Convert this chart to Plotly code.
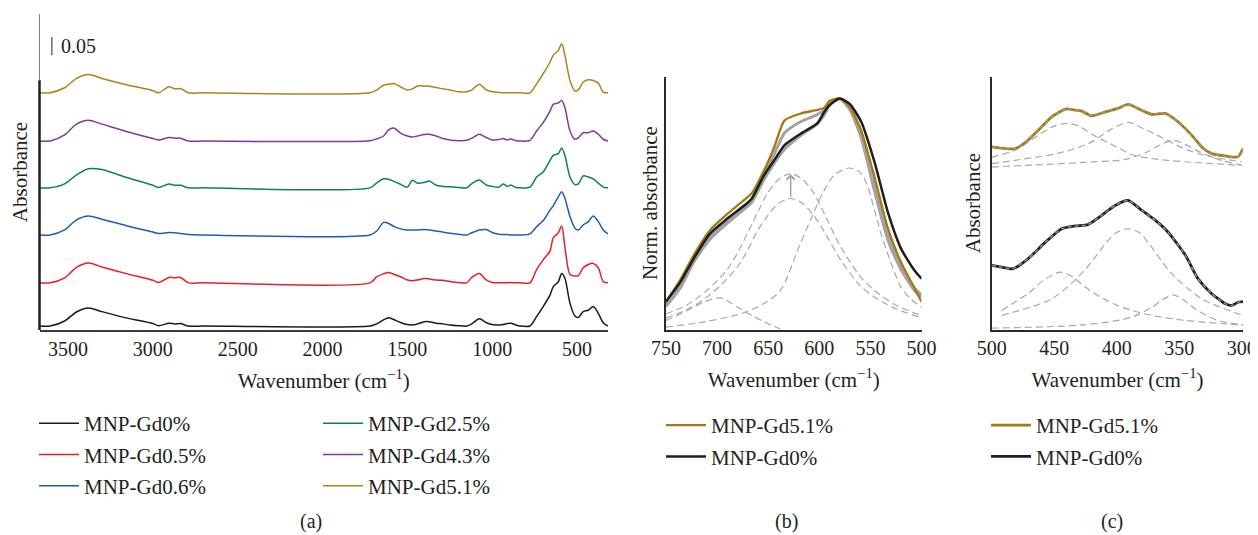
import plotly.graph_objects as go

# ---------------- Panel (a): FTIR spectra (absorbance, stacked) ----------------
wn_a = [3668, 3605, 3520, 3450, 3380, 3300, 3150, 3000, 2965, 2905, 2870, 2837, 2790, 2700,
        1720, 1680, 1640, 1610, 1580, 1540, 1500, 1470, 1440, 1400, 1370, 1330, 1290, 1250,
        1200, 1150, 1120, 1075, 1035, 1000, 960, 935, 910, 890, 860,
        836, 777, 738, 699, 659, 640, 610, 590, 571, 541, 512, 492, 463, 433, 404, 374, 345, 317]

abs_gd0 = [0, 0, 0.014, 0.039, 0.050, 0.040, 0.022, 0.007, 0.001, 0.008, 0.006, 0.007, 0, 0,
           0, 0.006, 0.017, 0.023, 0.018, 0.010, 0.004, 0.003, 0.006, 0.012, 0.012, 0.008, 0.006, 0.003,
           0.001, 0, 0.006, 0.020, 0.010, 0.004, 0.003, 0.004, 0.007, 0.008, 0.003,
           0, 0, 0.026, 0.054, 0.086, 0.109, 0.123, 0.146, 0.133, 0.063, 0.028, 0.024, 0.040, 0.044, 0.054, 0.035, 0.009, 0]
abs_gd05 = [0, 0, 0.014, 0.043, 0.055, 0.044, 0.025, 0.007, 0.001, 0.015, 0.014, 0.015, 0, 0,
            0, 0.017, 0.025, 0.029, 0.024, 0.017, 0.008, 0.006, 0.008, 0.012, 0.011, 0.008, 0.007, 0.004,
            0.001, 0, 0.015, 0.026, 0.008, 0.001, 0, 0, 0, 0.001, 0,
            0, 0, 0.037, 0.064, 0.088, 0.125, 0.139, 0.158, 0.100, 0.023, 0.019, 0.020, 0.042, 0.051, 0.054, 0.042, 0.003, 0]
abs_gd06 = [0, 0, 0.014, 0.042, 0.053, 0.044, 0.025, 0.008, 0.004, 0.007, 0.006, 0.004, 0.001, 0,
            0, 0.011, 0.035, 0.032, 0.024, 0.017, 0.014, 0.014, 0.014, 0.015, 0.014, 0.011, 0.008, 0.005,
            0.002, 0, 0.006, 0.014, 0.015, 0.007, 0.002, 0.001, 0.001, 0, 0,
            0, 0.003, 0.023, 0.040, 0.069, 0.081, 0.106, 0.120, 0.102, 0.051, 0.019, 0.014, 0.028, 0.037, 0.053, 0.037, 0.014, 0.003]
abs_gd25 = [0, 0, 0.011, 0.036, 0.053, 0.051, 0.028, 0.007, 0.001, 0.011, 0.007, 0.007, 0, 0,
            0, 0.014, 0.025, 0.024, 0.018, 0.010, 0.002, 0.021, 0.013, 0.015, 0.019, 0.007, 0.004, 0.003,
            0.001, 0, 0.012, 0.022, 0.008, 0.004, 0.002, 0.011, 0.004, 0.008, 0.001,
            0, 0.002, 0.030, 0.044, 0.076, 0.090, 0.095, 0.111, 0.090, 0.030, 0.009, 0.011, 0.033, 0.030, 0.025, 0.013, 0.002, 0]
abs_gd43 = [0, 0, 0.017, 0.047, 0.058, 0.047, 0.026, 0.007, 0.003, 0.010, 0.008, 0.008, 0, 0,
            0.001, 0.006, 0.014, 0.031, 0.036, 0.022, 0.014, 0.011, 0.014, 0.018, 0.019, 0.014, 0.007, 0.003,
            0.001, 0.002, 0.008, 0.019, 0.010, 0.003, 0.004, 0.007, 0.003, 0.006, 0.001,
            0, 0.002, 0.028, 0.051, 0.083, 0.102, 0.106, 0.113, 0.093, 0.028, 0.005, 0.009, 0.023, 0.023, 0.028, 0.019, 0.005, 0]
abs_gd51 = [0, 0, 0.014, 0.040, 0.051, 0.040, 0.022, 0.006, 0, 0.017, 0.011, 0.012, 0, 0,
            0, 0.008, 0.021, 0.024, 0.026, 0.017, 0.008, 0.011, 0.019, 0.019, 0.018, 0.015, 0.011, 0.008,
            0.003, 0.003, 0.008, 0.024, 0.008, 0.003, 0.001, 0, 0, 0, 0,
            0, 0, 0.025, 0.053, 0.085, 0.104, 0.118, 0.136, 0.104, 0.034, 0.005, 0.008, 0.030, 0.036, 0.034, 0.027, 0.002, 0]

names_a = ["MNP-Gd0%", "MNP-Gd0.5%", "MNP-Gd0.6%", "MNP-Gd2.5%", "MNP-Gd4.3%", "MNP-Gd5.1%"]
series_a = [abs_gd0, abs_gd05, abs_gd06, abs_gd25, abs_gd43, abs_gd51]
offsets_a = [0, 0.120, 0.253, 0.384, 0.514, 0.648]
colors_a = ["#1a1a1a", "#ee1c25", "#1d5fae", "#0f7f56", "#7e3a97", "#a8851a"]
ticks_a = [3500, 3000, 2500, 2000, 1500, 1000, 500]

# ---------------- Panel (b): normalised absorbance 750-500 cm-1 ----------------
wn_b = [750, 736, 723, 707, 690, 671, 666, 654, 644, 634, 618, 602, 595, 590, 580, 570, 559, 546, 533, 520, 507, 500]
norm_gd0_b = [0.121, 0.205, 0.306, 0.415, 0.480, 0.545, 0.567, 0.668, 0.733, 0.798, 0.848, 0.892, 0.942, 0.971, 1.0,
              0.975, 0.899, 0.725, 0.509, 0.350, 0.256, 0.220]
norm_gd51_b = [0.120, 0.215, 0.321, 0.430, 0.500, 0.570, 0.590, 0.689, 0.790, 0.905, 0.935, 0.950, 0.960, 0.990, 1.0,
               0.963, 0.860, 0.660, 0.440, 0.290, 0.180, 0.120]
norm_grey1_b = [0.110, 0.190, 0.300, 0.400, 0.470, 0.540, 0.565, 0.665, 0.760, 0.850, 0.900, 0.930, 0.950, 0.980, 1.0,
                0.960, 0.840, 0.620, 0.410, 0.270, 0.180, 0.150]
norm_grey2_b = [0.100, 0.180, 0.290, 0.390, 0.460, 0.530, 0.550, 0.650, 0.720, 0.780, 0.840, 0.890, 0.930, 0.970, 1.0,
                0.950, 0.830, 0.600, 0.390, 0.260, 0.170, 0.140]
wn_b_c1 = [750, 730, 710, 690, 677, 660, 651, 640, 628, 616, 605, 596, 579, 560, 546, 525, 500]
comp1_up_b = [0.068, 0.105, 0.169, 0.260, 0.357, 0.510, 0.588, 0.648, 0.675, 0.648, 0.588, 0.510, 0.357, 0.230, 0.169, 0.105, 0.061]
comp1_lo_b = [0.050, 0.085, 0.140, 0.220, 0.290, 0.430, 0.490, 0.545, 0.567, 0.545, 0.490, 0.430, 0.300, 0.190, 0.140, 0.090, 0.050]
wn_b_c2 = [750, 710, 677, 655, 638, 620, 608, 597, 585, 571, 560, 553, 545, 540, 530, 520, 510, 500]
comp2_b = [0.010, 0.035, 0.068, 0.110, 0.169, 0.357, 0.480, 0.588, 0.670, 0.699, 0.680, 0.623, 0.500, 0.420, 0.290, 0.183, 0.130, 0.096]
wn_b_c3 = [750, 730, 715, 697, 680, 665, 650, 638]
comp3_b = [0.039, 0.080, 0.115, 0.137, 0.097, 0.058, 0.025, 0.002]
ticks_b = [750, 700, 650, 600, 550, 500]

# ---------------- Panel (c): absorbance 500-300 cm-1 with fitted bands ----------------
wn_c_gd51 = [500, 489, 481, 471, 460, 452, 441, 434, 428, 420, 409, 399, 391, 380, 372, 361, 351, 340, 332, 324, 313, 303, 299]
abs_c_gd51 = [0.790, 0.783, 0.783, 0.819, 0.877, 0.920, 0.954, 0.950, 0.945, 0.925, 0.942, 0.957, 0.974, 0.949, 0.931,
              0.935, 0.899, 0.841, 0.790, 0.761, 0.751, 0.747, 0.783]
wn_c_gd0 = [500, 492, 483, 471, 457, 444, 433, 423, 412, 401, 391, 380, 369, 359, 345, 335, 324, 313, 308, 303, 299]
abs_c_gd0 = [0.277, 0.270, 0.263, 0.306, 0.378, 0.436, 0.448, 0.454, 0.494, 0.538, 0.559, 0.516, 0.472, 0.422, 0.321,
             0.220, 0.155, 0.111, 0.104, 0.118, 0.121]
wn_c_g1 = [500, 480, 460, 450, 440, 430, 420, 400, 387, 365, 330, 300]
band1_c_gd51 = [0.745, 0.780, 0.850, 0.880, 0.892, 0.880, 0.845, 0.790, 0.755, 0.735, 0.720, 0.710]
wn_c_g2 = [500, 452, 435, 420, 405, 391, 377, 362, 347, 332, 300]
band2_c_gd51 = [0.718, 0.757, 0.780, 0.812, 0.865, 0.896, 0.865, 0.826, 0.785, 0.757, 0.725]
wn_c_g3 = [500, 420, 394, 375, 365, 355, 345, 332, 315, 300]
band3_c_gd51 = [0.703, 0.725, 0.735, 0.770, 0.800, 0.819, 0.800, 0.764, 0.730, 0.711]
wn_c_b1 = [492, 481, 471, 458, 445, 436, 427, 413, 399, 385, 372, 345, 320, 299]
band1_c_gd0 = [0.082, 0.120, 0.155, 0.215, 0.248, 0.230, 0.191, 0.140, 0.104, 0.078, 0.061, 0.039, 0.027, 0.020]
wn_c_b2 = [492, 452, 427, 408, 400, 391, 382, 375, 357, 332, 299]
band2_c_gd0 = [0.061, 0.133, 0.248, 0.378, 0.420, 0.436, 0.420, 0.378, 0.248, 0.133, 0.061]
wn_c_b3 = [500, 427, 388, 372, 363, 355, 347, 335, 319, 299]
band3_c_gd0 = [0.006, 0.020, 0.053, 0.096, 0.130, 0.150, 0.130, 0.081, 0.039, 0.020]
ticks_c = [500, 450, 400, 350, 300]

FONT = "Liberation Serif"
TXT = "#231f20"
GREY = "#a3a3a3"
DASH = "#a8a8a8"
GOLD_B = "#a47b12"
BLACK_B = "#1e1e1e"
W, H = 1258, 535
PAGE_OFF = 8  # default page body margin in front of the figure


def fx(p):
    return (p - PAGE_OFF) / W


def fy(p):
    return 1 - (p - PAGE_OFF) / H


fig = go.Figure()

# panel (a)
for i, (nm, vals, off, col) in enumerate(zip(names_a, series_a, offsets_a, colors_a)):
    fig.add_trace(go.Scatter(
        x=wn_a, y=[off + v for v in vals], mode="lines", name=nm,
        line=dict(color=col, width=1.5, shape="spline", smoothing=0.8),
        xaxis="x", yaxis="y", legend="legend" if i < 3 else "legend2",
        legendgroup=nm + "_a", hoverinfo="skip"))

# panel (b)
dash_style = dict(color=DASH, width=1.2, dash="7px,4px", shape="spline", smoothing=0.8)
for xs, ys in [(wn_b_c1, comp1_up_b), (wn_b_c1, comp1_lo_b), (wn_b_c2, comp2_b), (wn_b_c3, comp3_b)]:
    fig.add_trace(go.Scatter(x=xs, y=ys, mode="lines", line=dash_style, showlegend=False,
                             xaxis="x2", yaxis="y2", hoverinfo="skip"))
for ys in [norm_grey2_b, norm_grey1_b]:
    fig.add_trace(go.Scatter(x=wn_b, y=ys, mode="lines",
                             line=dict(color=GREY, width=3, shape="spline", smoothing=0.6),
                             showlegend=False, xaxis="x2", yaxis="y2", hoverinfo="skip"))
fig.add_trace(go.Scatter(x=wn_b, y=norm_gd51_b, mode="lines", name="MNP-Gd5.1%",
                         line=dict(color=GOLD_B, width=2.3, shape="spline", smoothing=0.6),
                         xaxis="x2", yaxis="y2", legend="legend3", legendgroup="g51b", hoverinfo="skip"))
fig.add_trace(go.Scatter(x=wn_b, y=norm_gd0_b, mode="lines", name="MNP-Gd0%",
                         line=dict(color=BLACK_B, width=2.5, shape="spline", smoothing=0.6),
                         xaxis="x2", yaxis="y2", legend="legend3", legendgroup="g0b", hoverinfo="skip"))

# panel (c)
for xs, ys in [(wn_c_g1, band1_c_gd51), (wn_c_g2, band2_c_gd51), (wn_c_g3, band3_c_gd51),
               (wn_c_b1, band1_c_gd0), (wn_c_b2, band2_c_gd0), (wn_c_b3, band3_c_gd0)]:
    fig.add_trace(go.Scatter(x=xs, y=ys, mode="lines", line=dash_style, showlegend=False,
                             xaxis="x3", yaxis="y3", hoverinfo="skip"))
fig.add_trace(go.Scatter(x=wn_c_gd51, y=abs_c_gd51, mode="lines", name="MNP-Gd5.1%",
                         line=dict(color=GOLD_B, width=2.8, shape="spline", smoothing=0.6),
                         xaxis="x3", yaxis="y3", legend="legend4", legendgroup="g51c", hoverinfo="skip"))
fig.add_trace(go.Scatter(x=wn_c_gd0, y=abs_c_gd0, mode="lines", name="MNP-Gd0%",
                         line=dict(color=BLACK_B, width=2.8, shape="spline", smoothing=0.6),
                         xaxis="x3", yaxis="y3", legend="legend4", legendgroup="g0c", hoverinfo="skip"))
# fitted sums drawn over the measured curves
for xs, ys in [(wn_c_gd51, abs_c_gd51), (wn_c_gd0, abs_c_gd0)]:
    fig.add_trace(go.Scatter(x=xs, y=ys, mode="lines",
                             line=dict(color="#9a9a9a", width=1.3, dash="4px,3px", shape="spline", smoothing=0.6),
                             showlegend=False, xaxis="x3", yaxis="y3", hoverinfo="skip"))

tickfont = dict(family=FONT, size=20, color=TXT)
titlefont = dict(family=FONT, size=21, color=TXT)
xtitle = "Wavenumber (cm<sup>−1</sup>)"

common_x = dict(showgrid=False, zeroline=False, ticks="", showline=True, tickfont=tickfont, automargin=False)
common_y = dict(showgrid=False, zeroline=False, ticks="", showticklabels=False, automargin=False)

legend_common = dict(font=dict(family=FONT, size=21, color=TXT), bgcolor="rgba(0,0,0,0)",
                     xanchor="left", yanchor="top", tracegroupgap=1, itemwidth=40, borderwidth=0)

fig.update_layout(
    template="none",
    width=W, height=H, autosize=False, margin=dict(l=0, r=0, t=0, b=0, pad=0),
    paper_bgcolor="white", plot_bgcolor="white",
    font=dict(family=FONT, color=TXT),
    xaxis=dict(domain=[fx(39.5), fx(608)], range=[3668, 317], anchor="y", tickvals=ticks_a,
               linecolor="#3c3c3c", linewidth=2,
               title=dict(text=xtitle, font=titlefont, standoff=14), **common_x),
    yaxis=dict(domain=[fy(330), fy(14)], range=[-0.011, 0.867], anchor="x", showline=False,
               title=dict(text="Absorbance", font=titlefont, standoff=8), **common_y),
    xaxis2=dict(domain=[fx(666), fx(921.5)], range=[750, 500], anchor="y2", tickvals=ticks_b,
                linecolor="#2a2a2a", linewidth=1.5,
                title=dict(text=xtitle, font=titlefont, standoff=14), **common_x),
    yaxis2=dict(domain=[fy(329.5), fy(76.7)], range=[0, 1.094], anchor="x2", showline=True,
                linecolor="#2a2a2a", linewidth=1.5,
                title=dict(text="Norm. absorbance", font=titlefont, standoff=1), **common_y),
    xaxis3=dict(domain=[fx(991.7), fx(1243.3)], range=[500, 298.7], anchor="y3", tickvals=ticks_c,
                linecolor="#2a2a2a", linewidth=1.5,
                title=dict(text=xtitle, font=titlefont, standoff=14), **common_x),
    yaxis3=dict(domain=[fy(329.5), fy(76.7)], range=[0, 1.094], anchor="x3", showline=True,
                linecolor="#2a2a2a", linewidth=1.5,
                title=dict(text="Absorbance", font=titlefont, standoff=4), **common_y),
    legend=dict(x=fx(34), y=fy(403), **legend_common),
    legend2=dict(x=fx(318), y=fy(403), **legend_common),
    legend3=dict(x=fx(661), y=fy(405), **legend_common),
    legend4=dict(x=fx(986), y=fy(405), **legend_common),
    showlegend=True,
)

# panel (a) y-axis: thick lower part, thin upper part, and 0.05 scale bar
fig.add_shape(type="line", xref="x domain", yref="y", x0=0, x1=0, y0=-0.011, y1=0.683,
              line=dict(color="#231f20", width=2.5))
fig.add_shape(type="line", xref="x domain", yref="y", x0=0, x1=0, y0=0.683, y1=0.867,
              line=dict(color="#808080", width=1))
fig.add_shape(type="line", xref="x", yref="y", x0=3595, x1=3595, y0=0.753, y1=0.803,
              line=dict(color="#231f20", width=1))
fig.add_annotation(x=3552, y=0.778, xref="x", yref="y", text="0.05", showarrow=False,
                   xanchor="left", yanchor="middle", font=dict(family=FONT, size=20, color=TXT))

# panel (b) arrow between the two fitted band heights
fig.add_annotation(x=628, y=0.672, ax=628, ay=0.567, xref="x2", yref="y2", axref="x2", ayref="y2",
                   text="", showarrow=True, arrowhead=4, arrowsize=1.2, arrowwidth=1.3, arrowcolor="#9a9a9a")

# sub-figure labels
for lab, xp in [("(a)", 310.5), ("(b)", 786), ("(c)", 1111.5)]:
    fig.add_annotation(x=fx(xp), y=fy(521), xref="paper", yref="paper", text=lab, showarrow=False,
                       xanchor="center", yanchor="middle", font=dict(family=FONT, size=20, color=TXT))

fig.write_html("out.html")
